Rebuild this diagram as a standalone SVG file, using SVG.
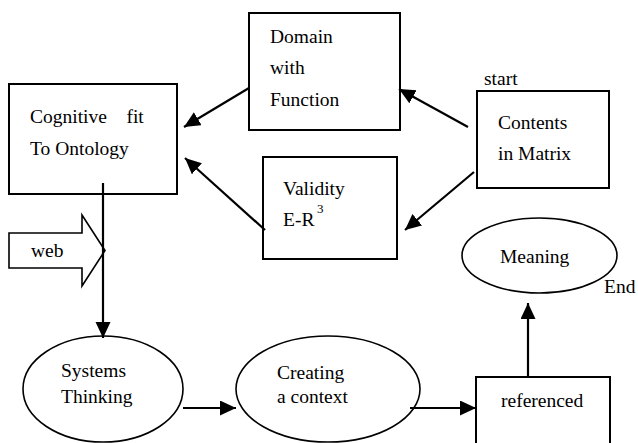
<svg xmlns="http://www.w3.org/2000/svg" width="638" height="443" viewBox="0 0 638 443">
<style>
  .box { fill: #fff; stroke: #000; stroke-width: 2; }
  .ell { fill: #fff; stroke: #000; stroke-width: 1.6; }
  text { font-family: 'Liberation Serif', 'Times New Roman', Times, 'DejaVu Serif', serif; fill: #000; }
  .t { font-size: 19.5px; }
  .sup { font-size: 13px; }
  .con { stroke: #000; stroke-width: 2.2; fill: none; marker-end: url(#ah); }
</style>
<defs>
  <marker id="ah" markerUnits="userSpaceOnUse" markerWidth="17" markerHeight="16" refX="16" refY="7.5" orient="auto" viewBox="0 0 17 16">
    <path d="M0,0 L16,7.5 L0,15 z" fill="#000"/>
  </marker>
</defs>
<rect width="638" height="443" fill="#fff"/>

<g id="cognitive">
  <rect class="box" x="9" y="84" width="168" height="110"/>
  <text class="t" x="30" y="123" xml:space="preserve" font-family="Liberation Serif, serif">Cognitive    fit</text>
  <text class="t" x="30" y="155" font-family="Liberation Serif, serif">To Ontology</text>
</g>
<g id="domain">
  <rect class="box" x="249" y="13" width="151" height="117"/>
  <text class="t" x="270" y="43">Domain</text>
  <text class="t" x="270" y="74">with</text>
  <text class="t" x="270" y="106">Function</text>
</g>
<g id="contents">
  <text class="t" x="484" y="85">start</text>
  <rect class="box" x="477" y="91" width="132" height="97"/>
  <text class="t" x="498" y="129">Contents</text>
  <text class="t" x="498" y="160">in Matrix</text>
</g>
<g id="validity">
  <rect class="box" x="263" y="157" width="134" height="102"/>
  <text class="t" x="283" y="195">Validity</text>
  <text class="t" x="283" y="226">E-R</text>
  <text class="sup" x="317" y="213">3</text>
</g>
<g id="web">
  <path d="M9,233 L82,233 L82,215 L105,250.5 L82,286 L82,268 L9,268 z" fill="#fff" stroke="#000" stroke-width="1.6"/>
  <text class="t" x="31" y="257">web</text>
</g>
<g id="systems">
  <ellipse class="ell" cx="103" cy="389" rx="80" ry="53"/>
  <text class="t" x="61" y="377">Systems</text>
  <text class="t" x="61" y="403">Thinking</text>
</g>
<g id="creating">
  <ellipse class="ell" cx="328" cy="389" rx="92" ry="53"/>
  <text class="t" x="277" y="379">Creating</text>
  <text class="t" x="277" y="403">a context</text>
</g>
<g id="referenced">
  <rect class="box" x="476" y="377" width="134" height="80"/>
  <text class="t" x="501" y="407">referenced</text>
</g>
<g id="meaning">
  <ellipse class="ell" cx="539.5" cy="255.5" rx="77.5" ry="37.5"/>
  <text class="t" x="500" y="263">Meaning</text>
  <text class="t" x="604" y="293">End</text>
</g>

<g id="connectors">
  <line class="con" x1="249" y1="88" x2="184" y2="127"/>
  <line class="con" x1="468" y1="127" x2="399" y2="89"/>
  <line class="con" x1="265" y1="230" x2="185" y2="158"/>
  <line class="con" x1="474" y1="172" x2="405" y2="230"/>
  <line class="con" x1="103" y1="183" x2="103" y2="338"/>
  <line class="con" x1="183" y1="408" x2="236" y2="408"/>
  <line class="con" x1="410" y1="408" x2="476" y2="408"/>
  <line class="con" x1="528" y1="377" x2="528" y2="303"/>
</g>
</svg>
